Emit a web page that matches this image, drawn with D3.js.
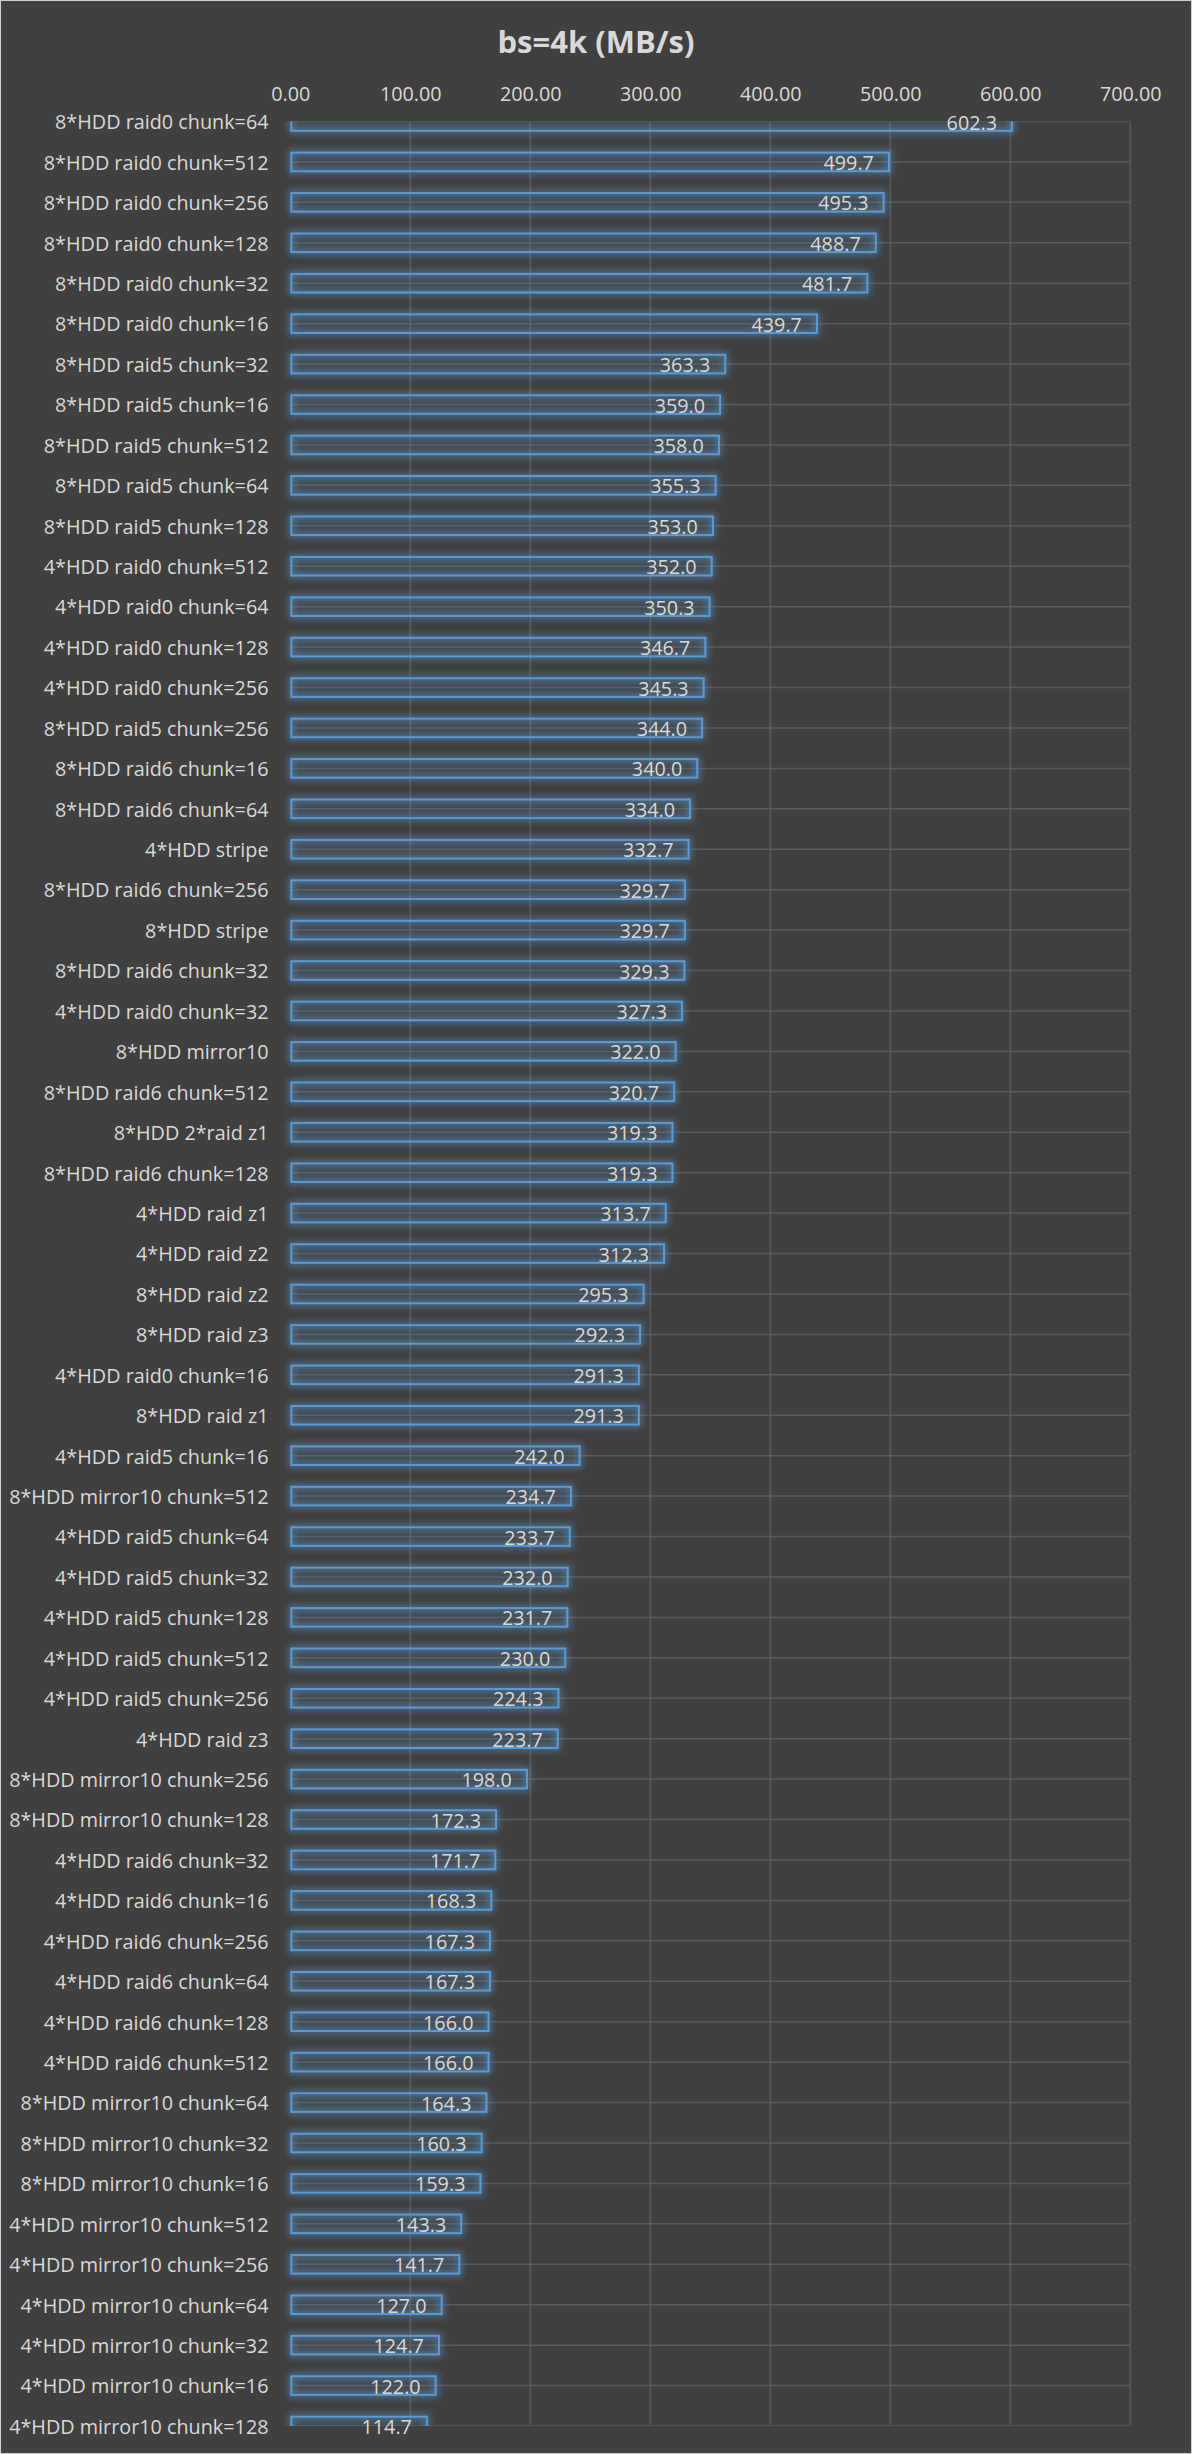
<!DOCTYPE html>
<html>
<head>
<meta charset="utf-8">
<script src="https://cdn.jsdelivr.net/npm/d3@7"></script>
<style>
  html, body { margin: 0; padding: 0; background: #404040; }
  svg { display: block; }
  text { font-family: "Open Sans", "Noto Sans", sans-serif; }
</style>
</head>
<body>
<svg id="chart" width="1192" height="2454"></svg>
<script>
// chart data
const title = "bs=4k (MB/s)";

const categories = [
    "8*HDD raid0 chunk=64", "8*HDD raid0 chunk=512", "8*HDD raid0 chunk=256", "8*HDD raid0 chunk=128",
    "8*HDD raid0 chunk=32", "8*HDD raid0 chunk=16", "8*HDD raid5 chunk=32", "8*HDD raid5 chunk=16",
    "8*HDD raid5 chunk=512", "8*HDD raid5 chunk=64", "8*HDD raid5 chunk=128", "4*HDD raid0 chunk=512",
    "4*HDD raid0 chunk=64", "4*HDD raid0 chunk=128", "4*HDD raid0 chunk=256", "8*HDD raid5 chunk=256",
    "8*HDD raid6 chunk=16", "8*HDD raid6 chunk=64", "4*HDD stripe", "8*HDD raid6 chunk=256",
    "8*HDD stripe", "8*HDD raid6 chunk=32", "4*HDD raid0 chunk=32", "8*HDD mirror10",
    "8*HDD raid6 chunk=512", "8*HDD 2*raid z1", "8*HDD raid6 chunk=128", "4*HDD raid z1",
    "4*HDD raid z2", "8*HDD raid z2", "8*HDD raid z3", "4*HDD raid0 chunk=16",
    "8*HDD raid z1", "4*HDD raid5 chunk=16", "8*HDD mirror10 chunk=512", "4*HDD raid5 chunk=64",
    "4*HDD raid5 chunk=32", "4*HDD raid5 chunk=128", "4*HDD raid5 chunk=512", "4*HDD raid5 chunk=256",
    "4*HDD raid z3", "8*HDD mirror10 chunk=256", "8*HDD mirror10 chunk=128", "4*HDD raid6 chunk=32",
    "4*HDD raid6 chunk=16", "4*HDD raid6 chunk=256", "4*HDD raid6 chunk=64", "4*HDD raid6 chunk=128",
    "4*HDD raid6 chunk=512", "8*HDD mirror10 chunk=64", "8*HDD mirror10 chunk=32", "8*HDD mirror10 chunk=16",
    "4*HDD mirror10 chunk=512", "4*HDD mirror10 chunk=256", "4*HDD mirror10 chunk=64", "4*HDD mirror10 chunk=32",
    "4*HDD mirror10 chunk=16", "4*HDD mirror10 chunk=128"
];

const values = [
    602.3, 499.7, 495.3, 488.7, 481.7, 439.7, 363.3, 359.0,
    358.0, 355.3, 353.0, 352.0, 350.3, 346.7, 345.3, 344.0,
    340.0, 334.0, 332.7, 329.7, 329.7, 329.3, 327.3, 322.0,
    320.7, 319.3, 319.3, 313.7, 312.3, 295.3, 292.3, 291.3,
    291.3, 242.0, 234.7, 233.7, 232.0, 231.7, 230.0, 224.3,
    223.7, 198.0, 172.3, 171.7, 168.3, 167.3, 167.3, 166.0,
    166.0, 164.3, 160.3, 159.3, 143.3, 141.7, 127.0, 124.7,
    122.0, 114.7
];

const xTicks = [0, 100, 200, 300, 400, 500, 600, 700];

const width = 1192;
const height = 2454;
const plot = { left: 290.3, right: 1130.3, top: 121.5, bottom: 2426 };
const textColor = "#d9d9d9";
const barColor = "#5b9bd5";
const gridColor = "#5a5a5a";
const fontSize = 19.8;

const rows = categories.map((c, i) => ({ name: c, value: values[i] }));

const svg = d3.select("#chart");

// background + outer border
svg.append("rect")
    .attr("x", 0.5).attr("y", 0.5)
    .attr("width", width - 1).attr("height", height - 1)
    .attr("fill", "#404040")
    .attr("stroke", "#d0d0d0")
    .attr("stroke-width", 1);

const defs = svg.append("defs");
defs.append("clipPath").attr("id", "plotClip")
    .append("rect")
    .attr("x", plot.left - 10)
    .attr("y", plot.top)
    .attr("width", plot.right - plot.left + 20)
    .attr("height", plot.bottom - plot.top);

const glow = defs.append("filter").attr("id", "glow")
    .attr("x", "-20%").attr("y", "-100%")
    .attr("width", "140%").attr("height", "300%");
glow.append("feGaussianBlur").attr("stdDeviation", 3.5);

// scales
const x = d3.scaleLinear().domain([0, 700]).range([plot.left, plot.right]);
const y = d3.scalePoint().domain(categories).range([plot.top, plot.bottom]).padding(0);
const barH = 18.6;

// title
svg.append("text")
    .attr("x", width / 2)
    .attr("y", 53.3)
    .attr("text-anchor", "middle")
    .attr("fill", textColor)
    .attr("font-size", 31)
    .attr("font-weight", "bold")
    .text(title);

// gridlines
const grid = svg.append("g").attr("clip-path", "url(#plotClip)");

grid.append("g")
    .selectAll("line")
    .data(categories)
    .join("line")
    .attr("x1", plot.left)
    .attr("x2", plot.right)
    .attr("y1", d => y(d))
    .attr("y2", d => y(d))
    .attr("stroke", gridColor)
    .attr("stroke-width", 1.5);

grid.append("g")
    .selectAll("line")
    .data(xTicks.filter(t => t > 0))
    .join("line")
    .attr("x1", d => x(d))
    .attr("x2", d => x(d))
    .attr("y1", plot.top)
    .attr("y2", plot.bottom)
    .attr("stroke", gridColor)
    .attr("stroke-width", 1.5);

// bars
const bars = svg.append("g").attr("clip-path", "url(#plotClip)");

bars.append("g")
    .attr("filter", "url(#glow)")
    .selectAll("rect")
    .data(rows)
    .join("rect")
    .attr("x", x(0) + 1)
    .attr("y", d => y(d.name) - barH / 2)
    .attr("width", d => x(d.value) - x(0) - 2)
    .attr("height", barH)
    .attr("fill", "none")
    .attr("stroke", barColor)
    .attr("stroke-width", 5)
    .attr("stroke-opacity", 0.6);

bars.append("g")
    .selectAll("rect")
    .data(rows)
    .join("rect")
    .attr("x", x(0) + 1)
    .attr("y", d => y(d.name) - barH / 2)
    .attr("width", d => x(d.value) - x(0) - 2)
    .attr("height", barH)
    .attr("fill", barColor)
    .attr("fill-opacity", 0.1)
    .attr("stroke", barColor)
    .attr("stroke-width", 2);

// value labels, inside end
svg.append("g")
    .selectAll("text")
    .data(rows)
    .join("text")
    .attr("x", d => x(d.value) - 16)
    .attr("y", d => y(d.name) + 8)
    .attr("text-anchor", "end")
    .attr("fill", textColor)
    .attr("font-size", fontSize)
    .text(d => d.value.toFixed(1));

// value axis on top, labels only
const xAxis = svg.append("g")
    .attr("transform", "translate(0,100.7)")
    .call(d3.axisTop(x).tickValues(xTicks).tickFormat(d3.format(".2f")).tickSize(0).tickPadding(0));
xAxis.select(".domain").remove();
xAxis.selectAll("text")
    .attr("fill", textColor)
    .attr("font-size", fontSize)
    .attr("font-family", "'Open Sans', sans-serif");

// category axis
const yAxis = svg.append("g")
    .attr("transform", "translate(268.5,0)")
    .call(d3.axisLeft(y).tickSize(0).tickPadding(0));
yAxis.select(".domain").remove();
yAxis.selectAll("text")
    .attr("dy", "0.37em")
    .attr("fill", textColor)
    .attr("font-size", fontSize)
    .attr("font-family", "'Open Sans', sans-serif");
</script>
</body>
</html>
